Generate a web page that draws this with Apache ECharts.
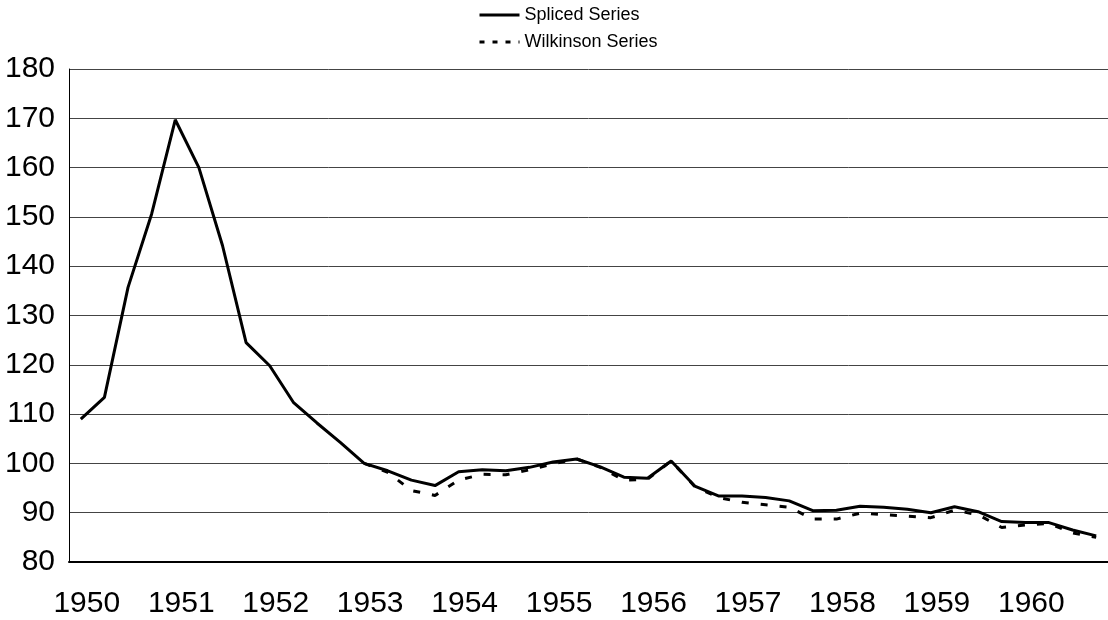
<!DOCTYPE html>
<html lang="en">
<head>
    <meta charset="UTF-8">
    <title>Spliced vs Wilkinson Series</title>
    <script type="text/javascript" src="https://cdn.jsdelivr.net/npm/echarts@6/dist/echarts.min.js"></script>
    <style>
        body { margin: 0; background: #fff; }
    </style>
</head>
<body>
    <div id="main" style="width: 1108px; height: 620px"></div>
    <script>
        // quarterly observations, 1950 Q1 .. 1960 Q4
        var years = ['1950', '1951', '1952', '1953', '1954', '1955', '1956', '1957', '1958', '1959', '1960'];
        var quarters = [];
        years.forEach(function (y) {
            for (var q = 1; q <= 4; q++) quarters.push(y + ' Q' + q);
        });

        var spliced = [
            109.0, 113.4, 135.7, 150.6, 169.7, 160.0, 144.2, 124.5, 119.8, 112.4, 108.2,
            104.2, 100.0, 98.5, 96.6, 95.5, 98.3, 98.7, 98.5, 99.2, 100.3, 100.9,
            99.3, 97.2, 97.0, 100.5, 95.4, 93.4, 93.4, 93.1, 92.4, 90.4, 90.5,
            91.3, 91.1, 90.7, 90.0, 91.2, 90.2, 88.2, 88.0, 88.0, 86.5, 85.3
        ];
        var wilkinson = [
            null, null, null, null, null, null, null, null, null, null, null,
            null, 100.0, 98.2, 94.5, 93.5, 96.6, 97.8, 97.7, 98.7, 99.9, 100.9,
            99.2, 96.6, 96.8, 100.5, 95.3, 93.1, 92.1, 91.6, 91.1, 88.7, 88.7,
            89.9, 89.6, 89.3, 89.0, 90.5, 89.6, 87.0, 87.5, 87.8, 85.9, 85.0
        ];

        var font = 'Liberation Sans';
        var myChart = echarts.init(document.getElementById('main'));

        myChart.setOption({
            animation: false,
            textStyle: { fontFamily: font },
            legend: {
                orient: 'vertical',
                left: 478,
                top: 6,
                padding: 0,
                itemWidth: 40,
                itemHeight: 14,
                itemGap: 9,
                textStyle: { fontSize: 18, color: '#000', fontFamily: font },
                data: [
                    { name: 'Spliced Series', itemStyle: { opacity: 0 }, lineStyle: { width: 3, color: '#000', type: 'solid' } },
                    { name: 'Wilkinson Series', itemStyle: { opacity: 0 }, lineStyle: { width: 3, color: '#000', type: [5, 8] } }
                ]
            },
            grid: {
                left: 69,
                right: -9,
                top: 69,
                bottom: 58
            },
            xAxis: {
                type: 'category',
                data: quarters,
                boundaryGap: true,
                axisLine: { lineStyle: { color: '#000', width: 2 } },
                axisTick: { show: false },
                axisLabel: {
                    interval: 3,
                    fontSize: 30,
                    color: '#000',
                    margin: 27,
                    padding: [0, 0, 0, 12],
                    formatter: function (v) { return v.slice(0, 4); }
                },
                splitLine: { show: false }
            },
            yAxis: {
                type: 'value',
                min: 80,
                max: 180,
                interval: 10,
                axisLine: { show: true, lineStyle: { color: '#000', width: 1 } },
                axisTick: { show: false },
                axisLabel: { fontSize: 30, color: '#000', margin: 14 },
                splitLine: { lineStyle: { color: '#444', width: 1 } }
            },
            series: [{
                name: 'Wilkinson Series',
                type: 'line',
                data: wilkinson,
                symbol: 'none',
                lineStyle: { color: '#000', width: 3, type: [7, 12] },
                itemStyle: { color: '#000' }
            }, {
                name: 'Spliced Series',
                type: 'line',
                data: spliced,
                symbol: 'none',
                lineStyle: { color: '#000', width: 3 },
                itemStyle: { color: '#000' }
            }]
        });
    </script>
</body>
</html>
